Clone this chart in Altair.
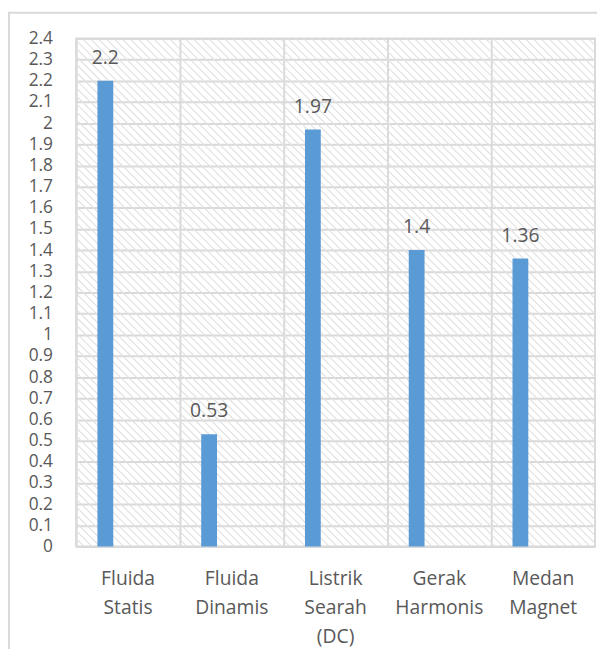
import altair as alt
import pandas as pd

# ---- data ----
categories = ["Fluida\nStatis", "Fluida\nDinamis", "Listrik\nSearah\n(DC)",
              "Gerak\nHarmonis", "Medan\nMagnet"]
values = [2.2, 0.53, 1.97, 1.4, 1.36]
y_ticks = [0, 0.1, 0.2, 0.3, 0.4, 0.5, 0.6, 0.7, 0.8, 0.9, 1.0, 1.1, 1.2,
           1.3, 1.4, 1.5, 1.6, 1.7, 1.8, 1.9, 2.0, 2.1, 2.2, 2.3, 2.4]

W, H = 525, 514
FONT = "Open Sans"
TXT = "#595959"
GRID = "#d9d9d9"
BAR = "#5b9bd5"

df = pd.DataFrame({"cat": categories, "val": values})

x_axis = alt.Axis(title=None, labelAngle=0,
                  labelExpr="split(datum.label, '\\n')",
                  labelFont=FONT, labelFontSize=19.5, labelColor=TXT,
                  labelLineHeight=29, labelBaseline="alphabetic",
                  labelPadding=39, labelLimit=0,
                  ticks=False, domain=False,
                  grid=True, gridColor=GRID, gridWidth=2, bandPosition=0)
x_scale = alt.Scale(paddingInner=0, paddingOuter=0)
y_axis = alt.Axis(title=None, values=y_ticks, format=".1~f",
                  labelFont=FONT, labelFontSize=17.5, labelColor=TXT,
                  labelPadding=24, labelOverlap=False,
                  ticks=False, domain=False,
                  grid=True, gridColor=GRID, gridWidth=2)
y_scale = alt.Scale(domain=[0, 2.4], nice=False)

x_enc = alt.X("cat:N", sort=categories, scale=x_scale, axis=x_axis)
y_enc = alt.Y("val:Q", scale=y_scale, axis=y_axis)

# outer chart frame (decoration)
frame = alt.Chart(alt.sequence(0, 1, as_="i")).mark_rect(
    fillOpacity=0, stroke=GRID, strokeWidth=2
).encode(x=alt.value(-68), x2=alt.value(W + 40),
         y=alt.value(-26), y2=alt.value(H + 160))

# diagonal hatching of plot background (decoration)
hatch = alt.Chart(alt.sequence(-H, W, 8, as_="a")).transform_calculate(
    b=f"datum.a + {H}"
).mark_rule(color="#e2e2e2", strokeWidth=1.2, clip=True).encode(
    x=alt.X("a:Q", scale=alt.Scale(domain=[0, W], nice=False, zero=False), axis=None),
    x2="b:Q",
    y=alt.YDatum(2.4, type="quantitative", scale=y_scale, axis=y_axis),
    y2=alt.datum(0),
)

base = alt.Chart(df)
bars = base.mark_bar(color=BAR, width=16, xOffset=-23).encode(x=x_enc, y=y_enc)
labels = base.mark_text(xOffset=-23, dy=-17, baseline="alphabetic", font=FONT,
                        fontSize=19.5, color=TXT).encode(
    x=x_enc,
    y=y_enc,
    text=alt.Text("val:Q", format=".2~f"),
)
data_layer = alt.layer(bars, labels)

chart = alt.layer(frame, hatch, data_layer).resolve_scale(x="independent").properties(
    width=W, height=H,
    autosize=alt.AutoSizeParams(type="none"),
    padding={"left": 69, "top": 27, "right": 2, "bottom": 100},
).configure_view(stroke=GRID, strokeWidth=2)

chart.save("out.html", embed_options={"renderer": "svg", "actions": False})
